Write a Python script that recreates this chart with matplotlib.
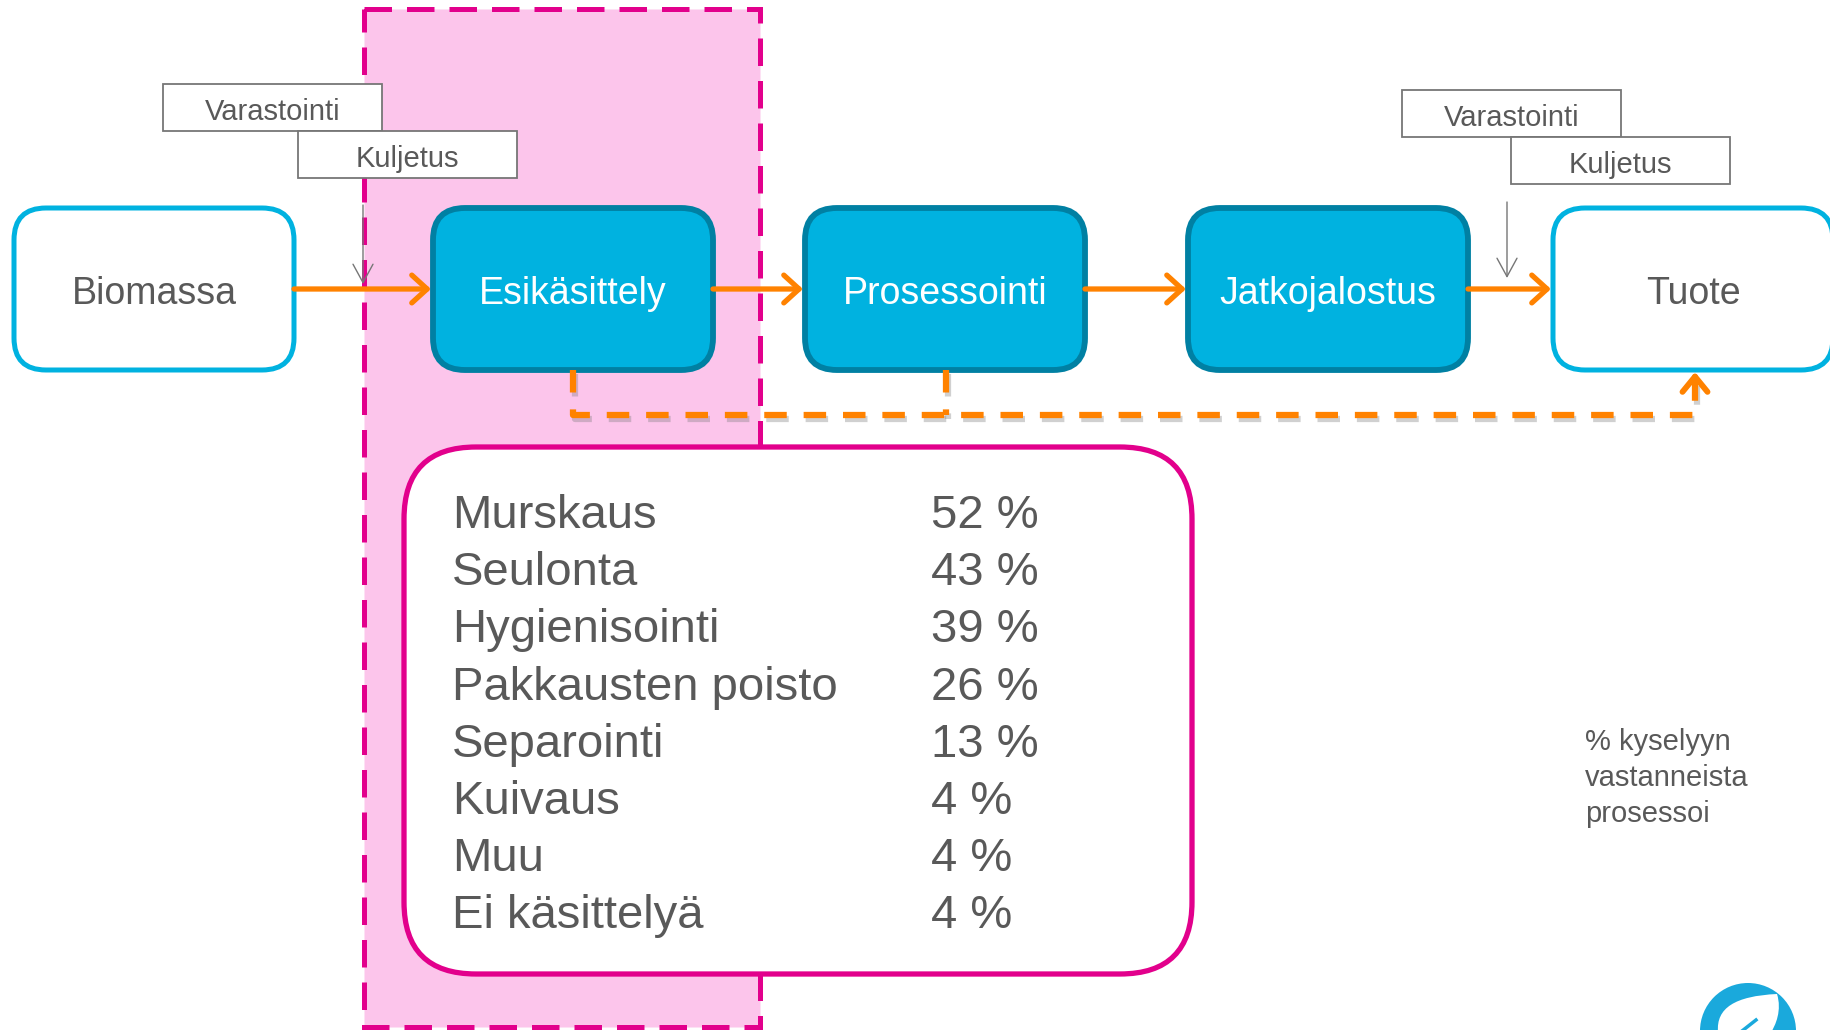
import matplotlib.pyplot as plt
from matplotlib.patches import FancyBboxPatch, FancyArrowPatch, Rectangle, Ellipse, PathPatch
from matplotlib.path import Path

plt.rcParams['font.family'] = ['Liberation Sans', 'DejaVu Sans']

# diagram content
stages = ['Biomassa', 'Esikäsittely', 'Prosessointi', 'Jatkojalostus', 'Tuote']
stage_filled = [False, True, True, True, False]
side_steps = ['Varastointi', 'Kuljetus']
treatments = ['Murskaus', 'Seulonta', 'Hygienisointi', 'Pakkausten poisto',
              'Separointi', 'Kuivaus', 'Muu', 'Ei käsittelyä']
shares = [52, 43, 39, 26, 13, 4, 4, 4]
note_lines = ['% kyselyyn', 'vastanneista', 'prosessoi']

# colours
cyan = '#00B2E0'
teal = '#0080A3'
orange = '#FF8200'
magenta = '#E2008C'
pink = '#FCC5EB'
grey_text = '#595959'
grey_line = '#767676'

# layout (pixels, origin top-left)
box_x = [14, 433, 805, 1188, 1553]
box_w, box_top, box_h = 280, 208, 162
mid_y = box_top + box_h / 2

fig = plt.figure(figsize=(18.3, 10.3), dpi=100)
ax = fig.add_axes([0, 0, 1, 1])
ax.set_xlim(0, 1830)
ax.set_ylim(1030, 0)
ax.axis('off')

# pink pre-treatment zone
ax.add_patch(Rectangle((364, 9), 396, 1018, facecolor=pink, edgecolor=magenta,
                       lw=3.6, ls=(0, (5.5, 3)), zorder=1))

# stage boxes
for name, x, filled in zip(stages, box_x, stage_filled):
    ax.add_patch(FancyBboxPatch((x, box_top), box_w, box_h,
                                boxstyle='round,pad=0,rounding_size=32',
                                facecolor=cyan if filled else 'white',
                                edgecolor=teal if filled else cyan,
                                lw=4.2 if filled else 3.6, zorder=4))
    ax.text(x + box_w / 2, mid_y + 15, name, ha='center', va='baseline',
            fontsize=27, color='white' if filled else grey_text, zorder=5)

# orange flow arrows between stages
for i in range(len(stages) - 1):
    ax.add_patch(FancyArrowPatch((box_x[i] + box_w, mid_y), (box_x[i + 1] - 2, mid_y),
                                 arrowstyle='->,head_length=0.55,head_width=0.5',
                                 mutation_scale=20, color=orange, lw=3.8,
                                 shrinkA=0, shrinkB=0, zorder=6))

# storage / transport labels and thin arrows
side_boxes = [[(163, 84), (298, 131)], [(1402, 90), (1511, 137)]]
side_w, side_h = 219, 47
for group in side_boxes:
    for label, (sx, sy) in zip(side_steps, group):
        ax.add_patch(Rectangle((sx, sy), side_w, side_h, facecolor='white',
                               edgecolor=grey_line, lw=1.3, zorder=3))
        ax.text(sx + side_w / 2, sy + 36, label, ha='center', va='baseline',
                fontsize=21, color=grey_text, zorder=4)

for ax_x, y0, y1 in [(363, 205, 284), (1507, 202, 278)]:
    ax.add_patch(FancyArrowPatch((ax_x, y0), (ax_x, y1),
                                 arrowstyle='->,head_length=1.1,head_width=0.6',
                                 mutation_scale=12, color=grey_line, lw=1.0,
                                 shrinkA=0, shrinkB=0, zorder=7))

# dashed orange by-pass line to product (with a soft shadow)
pattern = (0, (3.6, 2.7))
for dx, dy, col, al, z in [(2, 4, '#7a7a7a', 0.35, 5), (0, 0, orange, 1.0, 6)]:
    ax.plot([573 + dx, 573 + dx, 1695 + dx, 1695 + dx], [370 + dy, 415 + dy, 415 + dy, 382 + dy],
            color=col, alpha=al, lw=4.5, ls=pattern, zorder=z)
    ax.plot([946 + dx, 946 + dx], [370 + dy, 415 + dy],
            color=col, alpha=al, lw=4.5, ls=pattern, zorder=z)
ax.add_patch(FancyArrowPatch((1695, 392), (1695, 372),
                             arrowstyle='->,head_length=0.55,head_width=0.45',
                             mutation_scale=20, color=orange, lw=4.2,
                             shrinkA=0, shrinkB=0, zorder=6))

# treatment table
ax.add_patch(FancyBboxPatch((404, 447), 788, 527,
                            boxstyle='round,pad=0,rounding_size=72',
                            facecolor='white', edgecolor=magenta, lw=3.8, zorder=3))
row_y0, row_step = 528, 57.2
for i, (lab, val) in enumerate(zip(treatments, shares)):
    y = row_y0 + i * row_step
    ax.text(452, y, lab, ha='left', va='baseline', fontsize=34, color=grey_text, zorder=4)
    ax.text(931, y, f'{val} %', ha='left', va='baseline', fontsize=34,
            color=grey_text, zorder=4)

# note
for i, line in enumerate(note_lines):
    ax.text(1585, 750 + i * 36, line, ha='left', va='baseline', fontsize=21,
            color=grey_text)

# logo in the corner
ax.add_patch(Ellipse((1748, 1031), 96, 96, facecolor='#1AA9DC', edgecolor='none', zorder=2))
leaf = Path([(1718, 1032), (1716, 1008), (1735, 996), (1777, 994),
             (1782, 1010), (1776, 1025), (1770, 1034), (1718, 1032)],
            [Path.MOVETO, Path.CURVE4, Path.CURVE4, Path.CURVE4,
             Path.CURVE4, Path.CURVE4, Path.CURVE4, Path.CLOSEPOLY])
ax.add_patch(PathPatch(leaf, facecolor='white', edgecolor='none', zorder=3))
ax.plot([1742, 1756], [1031, 1020], color='#1AA9DC', lw=2.5, zorder=4)

fig.savefig('out.png', dpi=100)
